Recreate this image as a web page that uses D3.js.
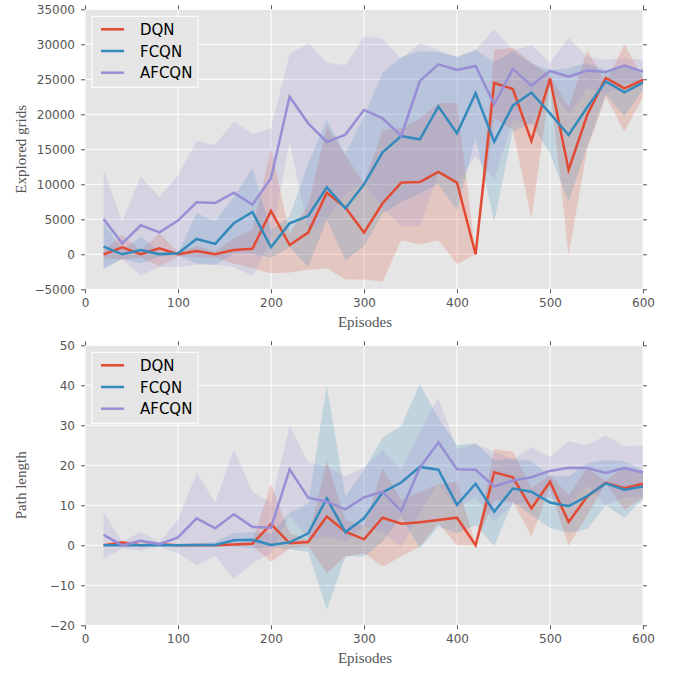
<!DOCTYPE html>
<html>
<head>
<meta charset="utf-8">
<script src="https://cdn.jsdelivr.net/npm/d3@7"></script>
<style>
  html, body { margin: 0; padding: 0; background: #ffffff; }
  svg { display: block; }
</style>
</head>
<body>
<svg id="chart" width="680" height="675"></svg>
<script>
// ---------- data ----------
const episodes = [20,40,60,80,100,120,140,160,180,200,220,240,260,280,300,320,340,360,380,400,420,440,460,480,500,520,540,560,580,600];
const seriesNames = ["DQN", "FCQN", "AFCQN"];
const seriesColors = ["#E24A33", "#348ABD", "#988ED5"];

const xTicks = [0,100,200,300,400,500,600];
const gridsTicks = [-5000,0,5000,10000,15000,20000,25000,30000,35000];
const pathTicks = [-20,-10,0,10,20,30,40,50];

// Explored grids (top panel)
const gridsDQN   = [0,1000,0,850,0,480,0,620,800,6190,1330,3100,8800,6670,3100,7290,10240,10330,11760,10240,0,24480,23620,16190,25100,12050,19900,25190,23710,24900];
const gridsFCQN  = [1100,0,620,0,140,2190,1480,4430,6050,1000,4430,5480,9570,6570,10000,14570,16900,16430,21100,17290,23000,16100,21240,23100,20140,17050,21000,24710,23140,24520];
const gridsAFCQN = [5050,1570,4140,3140,4810,7430,7330,8810,7100,10860,22520,18710,16050,17100,20620,19430,16900,24760,27140,26330,26900,21430,26480,24100,26190,25380,26240,26050,26950,26100];

const gridsDQNHi   = [500,2800,500,3000,300,1200,400,2300,3500,15100,3000,7000,18300,14200,10100,17800,18000,19400,21600,21600,0,29200,29500,27400,25500,21000,29100,24500,30000,25100];
const gridsDQNLo   = [-500,-800,-500,-1700,-300,-400,-500,-1300,-2000,-2700,-2600,-2200,-2000,-3600,-3600,-3900,2000,1400,2000,-1400,0,19500,17800,5100,24000,-100,15000,22500,17500,22500];
const gridsFCQNHi  = [4700,600,2500,400,200,5900,4700,8200,12300,3500,5400,13000,19200,14400,19700,25900,28200,29000,28900,28200,29200,27500,29000,27300,26300,26600,27300,26300,26800,26400];
const gridsFCQNLo  = [-2000,-600,-1300,-300,-100,-1300,-1500,100,100,-500,1000,-1800,4900,-800,1100,5800,7500,8700,10000,6300,16600,4700,17500,18700,14400,7500,15400,22800,19700,23500];
const gridsAFCQNHi = [12000,4700,11100,8200,11300,16200,15600,19000,17200,18000,28600,30100,27400,27000,31100,30800,27900,30200,29200,28200,29200,32200,29200,29900,27400,30900,28200,27800,28000,27800];
const gridsAFCQNLo = [-2100,-700,-3000,-1800,-1800,-1500,-1500,-1800,-3100,2000,16000,3500,4900,8700,10100,6800,4000,4000,11500,10100,14000,10600,19200,18500,24000,19900,23700,23000,24400,24400];

// Path length (bottom panel)
const pathDQN   = [0,0.7,0,0.25,0,0.1,0,0.2,0.4,5.3,0.5,0.8,7.2,3.4,1.5,6.9,5.4,5.75,6.3,6.9,0,18.25,17,9.2,15.9,5.8,12.2,15.6,14.25,15.4];
const pathFCQN  = [0,0,0,0,0,0.1,0.1,1.25,1.4,0.1,0.75,3,11.75,3.3,6.75,13.2,15.7,19.6,18.9,10.1,15.4,8.4,14.2,13.4,10.7,9.8,12.3,15.5,13.9,14.7];
const pathAFCQN = [2.6,0,1.1,0.3,2,6.75,4.25,7.75,4.6,4.4,19,11.9,10.9,9,12,13.4,8.6,19.4,25.75,19,18.9,14.7,16.2,17,18.6,19.4,19.3,18.1,19.3,18.2];

const pathDQNHi   = [0.2,1.2,0.2,0.5,0.1,0.3,0.1,0.5,1,15.3,3,1.5,21.2,6.3,4.7,19.3,11.3,13.4,15.3,15.9,0,24,23.4,14.3,17.6,12.6,19.3,16,19.7,18];
const pathDQNLo   = [-0.2,-0.2,-0.2,0,-0.1,-0.1,-0.1,-0.1,-0.2,-4.1,-0.8,-0.3,-7,-2.8,-2,-5.3,-2.8,-0.3,5.5,0,0,11.2,10.9,2.2,14.3,-0.2,7.6,15.5,8.8,11.8];
const pathFCQNHi  = [0.2,0.1,0.1,0.1,0.1,0.3,0.9,3,3.3,3,8,10.5,40,12.2,18.8,27,29.8,40.3,31.8,25,25.5,21.3,21.6,21,17.4,17.2,20.5,21.3,21,18.8];
const pathFCQNLo  = [-0.2,-0.1,-0.1,-0.1,-0.1,-0.1,-0.3,-0.3,-0.8,-0.5,-1,-1.6,-16.2,-2.7,-2.8,0.9,7.2,-0.8,4.7,3,5,-0.2,10.9,7.6,4.3,3.2,4,10,6.9,11.6];
const pathAFCQNHi = [8.2,0.9,3.3,0.9,6.3,18.2,10.7,24,13.4,10.5,29.9,20.7,19.7,17.2,19.5,23.8,19,28.4,36.9,24,25.3,23.4,21.5,24.5,22,26,25,27.5,24.7,25];
const pathAFCQNLo = [-3.4,-0.8,-1.3,-0.3,-2,-4.9,-2.7,-8.4,-4.5,-2,7.6,1.5,2.2,0.9,4.7,3.4,-0.5,8,15.5,9.3,12,6,10,11,12,10,15,10,12,12];

// ---------- drawing ----------
const svg = d3.select("#chart");
const tickColor = "#555555";

function panel(cfg) {
  const x = d3.scaleLinear().domain([0, 600]).range([85, 643]);
  const y = d3.scaleLinear().domain(cfg.yDomain).range([cfg.bottom, cfg.top]);
  const g = svg.append("g");

  g.append("rect")
    .attr("x", x(0)).attr("y", y(cfg.yDomain[1]))
    .attr("width", x(600) - x(0)).attr("height", y(cfg.yDomain[0]) - y(cfg.yDomain[1]))
    .attr("fill", "#E5E5E5");

  // grid
  g.selectAll(".vg").data(xTicks).enter().append("line")
    .attr("x1", d => x(d)).attr("x2", d => x(d))
    .attr("y1", y(cfg.yDomain[0])).attr("y2", y(cfg.yDomain[1]))
    .attr("stroke", "#ffffff").attr("stroke-width", 1);
  g.selectAll(".hg").data(cfg.yTicks).enter().append("line")
    .attr("x1", x(0)).attr("x2", x(600))
    .attr("y1", d => y(d)).attr("y2", d => y(d))
    .attr("stroke", "#ffffff").attr("stroke-width", 1);

  // bands
  cfg.series.forEach((s, i) => {
    const area = d3.area()
      .x((d, j) => x(episodes[j]))
      .y0((d, j) => y(s.lo[j]))
      .y1((d, j) => y(s.hi[j]));
    g.append("path").datum(s.hi)
      .attr("d", area)
      .attr("fill", seriesColors[i]).attr("fill-opacity", 0.2)
      .attr("stroke", "none");
  });
  // lines
  cfg.series.forEach((s, i) => {
    const line = d3.line()
      .x((d, j) => x(episodes[j]))
      .y(d => y(d));
    g.append("path").datum(s.mean)
      .attr("d", line)
      .attr("fill", "none")
      .attr("stroke", seriesColors[i])
      .attr("stroke-width", 2.5)
      .attr("stroke-linejoin", "miter");
  });

  // axes
  const fmt = d3.format("d");
  const axL = g.append("g").attr("transform", `translate(${x(0)},0)`)
    .call(d3.axisLeft(y).tickValues(cfg.yTicks).tickSize(4).tickPadding(6).tickFormat(fmt));
  const axR = g.append("g").attr("transform", `translate(${x(600)},0)`)
    .call(d3.axisRight(y).tickValues(cfg.yTicks).tickSize(4).tickFormat(""));
  const axB = g.append("g").attr("transform", `translate(0,${y(cfg.yDomain[0])})`)
    .call(d3.axisBottom(x).tickValues(xTicks).tickSize(4).tickPadding(5).tickFormat(fmt));
  const axT = g.append("g").attr("transform", `translate(0,${y(cfg.yDomain[1])})`)
    .call(d3.axisTop(x).tickValues(xTicks).tickSize(4).tickFormat(""));
  [axL, axR, axB, axT].forEach(a => {
    a.select(".domain").remove();
    a.selectAll(".tick line").attr("stroke", tickColor).attr("stroke-width", 1);
    a.selectAll(".tick text")
      .attr("fill", tickColor)
      .style("font-family", "'DejaVu Sans', sans-serif")
      .style("font-size", "12px");
  });

  // axis labels
  g.append("text")
    .attr("x", 365).attr("y", y(cfg.yDomain[0]) + 38)
    .attr("text-anchor", "middle")
    .attr("fill", tickColor)
    .style("font-family", "'Liberation Serif', 'DejaVu Serif', serif")
    .style("font-size", "15px")
    .text(cfg.xLabel);
  const cy = (y(cfg.yDomain[0]) + y(cfg.yDomain[1])) / 2;
  g.append("text")
    .attr("transform", `translate(26,${cy}) rotate(-90)`)
    .attr("text-anchor", "middle")
    .attr("fill", tickColor)
    .style("font-family", "'Liberation Serif', 'DejaVu Serif', serif")
    .style("font-size", "15px")
    .text(cfg.yLabel);

  // legend
  const lx = 92, ly = y(cfg.yDomain[1]) + 7;
  const lg = g.append("g");
  lg.append("rect")
    .attr("x", lx).attr("y", ly).attr("width", 106).attr("height", 71)
    .attr("fill", "#E5E5E5").attr("stroke", "#ffffff").attr("stroke-width", 1);
  seriesNames.forEach((name, i) => {
    const yy = ly + 13 + i * 21.7;
    lg.append("line")
      .attr("x1", lx + 9).attr("x2", lx + 32)
      .attr("y1", yy).attr("y2", yy)
      .attr("stroke", seriesColors[i]).attr("stroke-width", 2.5);
    lg.append("text")
      .attr("x", lx + 48).attr("y", yy + 5.5)
      .attr("fill", "#000000")
      .style("font-family", "'DejaVu Sans', sans-serif")
      .style("font-size", "15px")
      .text(name);
  });
}

panel({
  top: 9.3, bottom: 289.3,
  yDomain: [-5000, 35000], yTicks: gridsTicks,
  xLabel: "Episodes", yLabel: "Explored grids",
  series: [
    { mean: gridsDQN,   hi: gridsDQNHi,   lo: gridsDQNLo },
    { mean: gridsFCQN,  hi: gridsFCQNHi,  lo: gridsFCQNLo },
    { mean: gridsAFCQN, hi: gridsAFCQNHi, lo: gridsAFCQNLo }
  ]
});

panel({
  top: 345.3, bottom: 625.3,
  yDomain: [-20, 50], yTicks: pathTicks,
  xLabel: "Episodes", yLabel: "Path length",
  series: [
    { mean: pathDQN,   hi: pathDQNHi,   lo: pathDQNLo },
    { mean: pathFCQN,  hi: pathFCQNHi,  lo: pathFCQNLo },
    { mean: pathAFCQN, hi: pathAFCQNHi, lo: pathAFCQNLo }
  ]
});
</script>
</body>
</html>
